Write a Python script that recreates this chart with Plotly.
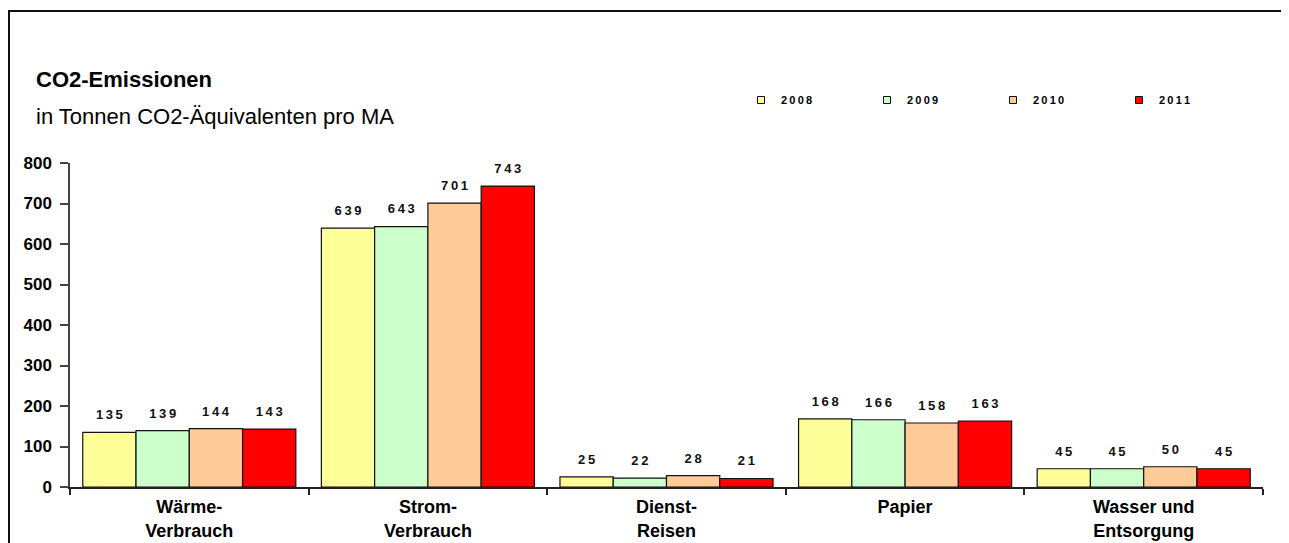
import plotly.graph_objects as go

categories = ["Wärme-<br>Verbrauch", "Strom-<br>Verbrauch", "Dienst-<br>Reisen", "Papier", "Wasser und<br>Entsorgung"]
years = ["2008", "2009", "2010", "2011"]
values_2008 = [135, 639, 25, 168, 45]
values_2009 = [139, 643, 22, 166, 45]
values_2010 = [144, 701, 28, 158, 50]
values_2011 = [143, 743, 21, 163, 45]
series = [values_2008, values_2009, values_2010, values_2011]
colors = ["#FFFF99", "#CCFFCC", "#FFCC99", "#FF0000"]
y_ticks = [0, 100, 200, 300, 400, 500, 600, 700, 800]

SP = "\u2009"  # thin space for letter spacing
FONT = "Liberation Sans, Arial, sans-serif"


def spaced(s):
    return SP.join(str(s))


fig = go.Figure()
for yr, vals, col in zip(years, series, colors):
    fig.add_trace(go.Bar(
        x=categories, y=vals, name=yr,
        marker=dict(color=col, line=dict(color="#111111", width=1.2)),
        text=[spaced(v) for v in vals],
        texttemplate="<span style='font-size:13px'>%{text}</span><br> ",
        textposition="outside",
        textfont=dict(family=FONT, size=7, color="#111111", weight="bold"),
        cliponaxis=False,
        showlegend=False,
    ))
    fig.add_trace(go.Scatter(
        x=[None], y=[None], mode="markers", name=spaced(yr),
        marker=dict(symbol="square", size=7, color=col, line=dict(color="#111111", width=1)),
        showlegend=True,
    ))

# The page has an 8px body margin: the figure is drawn from page pixel (8, 8).
# Helpers convert page pixels to paper coordinates (plot area: x 70..1263, y 163..487 page px)
def px(x):
    return (x - 70) / 1193.0


def py(y):
    return (487 - y) / 324.0


shapes = [
    # mask clipping the left part of the y tick labels
    dict(type="rect", xref="paper", yref="paper", x0=px(8), x1=px(12.5), y0=py(500), y1=py(150),
         fillcolor="white", line=dict(width=0), layer="above"),
    # frame
    dict(type="line", xref="paper", yref="paper", x0=px(9), x1=px(1290), y0=py(11), y1=py(11),
         line=dict(color="#111111", width=2), layer="above"),
    dict(type="line", xref="paper", yref="paper", x0=px(9), x1=px(9), y0=py(10), y1=py(545),
         line=dict(color="#111111", width=2), layer="above"),
]

annotations = [
    dict(text="<b>CO2-Emissionen</b>", xref="paper", yref="paper", x=px(34), y=py(80),
         xanchor="left", yanchor="middle", showarrow=False,
         font=dict(family=FONT, size=22, color="#000000")),
    dict(text="in Tonnen CO2-Äquivalenten pro MA", xref="paper", yref="paper", x=px(34), y=py(116),
         xanchor="left", yanchor="middle", showarrow=False,
         font=dict(family=FONT, size=22, color="#000000")),
]

fig.update_layout(
    width=1281, height=535,
    margin=dict(l=62, r=26, t=155, b=56, autoexpand=False),
    paper_bgcolor="white", plot_bgcolor="white",
    barmode="group", bargap=0.107, bargroupgap=0,
    font=dict(family=FONT, color="#000000"),
    shapes=shapes, annotations=annotations,
    legend=dict(orientation="h", x=px(741), y=py(100), xanchor="left", yanchor="middle",
                entrywidth=81, entrywidthmode="pixels", itemwidth=30,
                font=dict(family=FONT, size=11, color="#000000", weight="bold"),
                bgcolor="rgba(0,0,0,0)", tracegroupgap=0),
    xaxis=dict(
        showline=True, linecolor="#222222", linewidth=1.5,
        ticks="outside", tickson="boundaries", ticklen=6, tickcolor="#222222", tickwidth=1.5,
        ticklabelstandoff=3,
        tickfont=dict(family=FONT, size=18, color="#000000", weight="bold"),
        showgrid=False, fixedrange=True,
    ),
    yaxis=dict(
        range=[0, 800], tickvals=y_ticks, ticktext=[str(v) for v in y_ticks],
        showline=True, linecolor="#444444", linewidth=1.5,
        ticks="outside", ticklen=8, tickcolor="#444444", tickwidth=1.5,
        ticklabelstandoff=5,
        tickfont=dict(family=FONT, size=17, color="#000000", weight="bold"),
        showgrid=False, zeroline=False, fixedrange=True,
    ),
)

fig.write_html("out.html")
